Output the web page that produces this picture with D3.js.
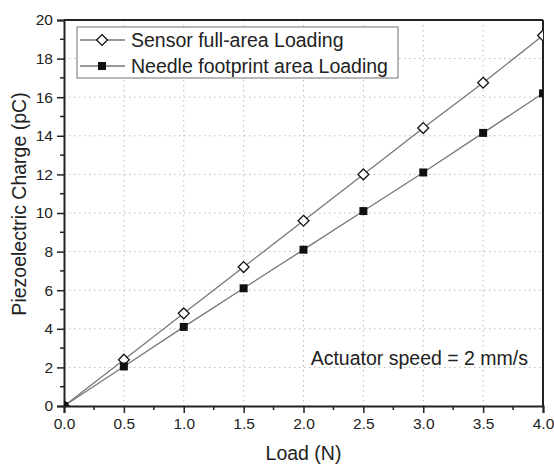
<!DOCTYPE html>
<html>
<head>
<meta charset="utf-8">
<script src="https://cdn.jsdelivr.net/npm/d3@7"></script>
<style>
  body { margin: 0; background: #fff; }
  text { font-family: "Liberation Sans", Arial, sans-serif; fill: #222; }
</style>
</head>
<body>
<script>
"use strict";

// data
const loads = [0, 0.5, 1.0, 1.5, 2.0, 2.5, 3.0, 3.5, 4.0]
const sensorCharge = [0, 2.4, 4.8, 7.2, 9.6, 12.0, 14.4, 16.75, 19.2]
const needleCharge = [0, 2.05, 4.1, 6.1, 8.1, 10.1, 12.1, 14.15, 16.2]
const xTicks = [0, 0.5, 1.0, 1.5, 2.0, 2.5, 3.0, 3.5, 4.0]
const yTicks = [0, 2, 4, 6, 8, 10, 12, 14, 16, 18, 20]
const seriesNames = ["Sensor full-area Loading", "Needle footprint area Loading"]

const m = { width: 554, height: 465, left: 64, right: 11, top: 20, bottom: 59 }
const iw = m.width - m.left - m.right
const ih = m.height - m.top - m.bottom

const svg = d3.select("body").append("svg")
    .attr("width", m.width)
    .attr("height", m.height)

const g = svg.append("g").attr("transform", `translate(${m.left},${m.top})`)

const x = d3.scaleLinear().domain([0, 4]).range([0, iw])
const y = d3.scaleLinear().domain([0, 20]).range([ih, 0])

svg.append("defs").append("clipPath").attr("id", "plotclip")
    .append("rect").attr("width", iw).attr("height", ih)

// dotted grid
g.selectAll(".vgrid").data(xTicks.slice(1, -1)).enter().append("line")
    .attr("x1", d => x(d)).attr("x2", d => x(d))
    .attr("y1", 0).attr("y2", ih)
    .attr("stroke", "#bbb").attr("stroke-dasharray", "1.5,3.5")
g.selectAll(".hgrid").data(yTicks.slice(1, -1)).enter().append("line")
    .attr("y1", d => y(d)).attr("y2", d => y(d))
    .attr("x1", 0).attr("x2", iw)
    .attr("stroke", "#bbb").attr("stroke-dasharray", "1.5,3.5")

// minor ticks
const xMinor = d3.range(0.25, 4, 0.5)
const yMinor = d3.range(1, 20, 2)
g.selectAll(".xminor").data(xMinor).enter().append("line")
    .attr("x1", d => x(d)).attr("x2", d => x(d))
    .attr("y1", ih).attr("y2", ih + 4)
    .attr("stroke", "#222").attr("stroke-width", 1.5)
g.selectAll(".yminor").data(yMinor).enter().append("line")
    .attr("y1", d => y(d)).attr("y2", d => y(d))
    .attr("x1", 0).attr("x2", -4)
    .attr("stroke", "#222").attr("stroke-width", 1.5)

// axes
const xAxis = g.append("g").attr("transform", `translate(0,${ih})`)
    .call(d3.axisBottom(x).tickValues(xTicks).tickFormat(d3.format(".1f")).tickSize(7).tickPadding(5))
const yAxis = g.append("g")
    .call(d3.axisLeft(y).tickValues(yTicks).tickSize(7).tickPadding(4))
;[xAxis, yAxis].forEach(a => {
    a.select(".domain").attr("stroke", "#222").attr("stroke-width", 2)
    a.selectAll(".tick line").attr("stroke", "#222").attr("stroke-width", 1.5)
    a.selectAll("text").attr("font-size", 15.5).attr("fill", "#222")
        .style("font-family", '"Liberation Sans", Arial, sans-serif')
})

// top and right frame
g.append("line").attr("x1", 0).attr("x2", iw).attr("y1", 0).attr("y2", 0)
    .attr("stroke", "#222").attr("stroke-width", 2)
g.append("line").attr("x1", iw).attr("x2", iw).attr("y1", 0).attr("y2", ih)
    .attr("stroke", "#222").attr("stroke-width", 2)

// series
const plot = g.append("g").attr("clip-path", "url(#plotclip)")
const line = d3.line().x(d => x(d[0])).y(d => y(d[1]))
const sensorPts = loads.map((l, i) => [l, sensorCharge[i]])
const needlePts = loads.map((l, i) => [l, needleCharge[i]])

plot.append("path").datum(sensorPts).attr("d", line)
    .attr("fill", "none").attr("stroke", "#777").attr("stroke-width", 1.3)
plot.append("path").datum(needlePts).attr("d", line)
    .attr("fill", "none").attr("stroke", "#777").attr("stroke-width", 1.3)

const diamond = d3.symbol().type(d3.symbolDiamond2).size(75)
plot.selectAll(".sensor").data(sensorPts).enter().append("path")
    .attr("d", diamond)
    .attr("transform", d => `translate(${x(d[0])},${y(d[1])})`)
    .attr("fill", "#fff").attr("stroke", "#111").attr("stroke-width", 1.3)
plot.selectAll(".needle").data(needlePts).enter().append("rect")
    .attr("x", d => x(d[0]) - 4).attr("y", d => y(d[1]) - 4)
    .attr("width", 8).attr("height", 8)
    .attr("fill", "#111")

// legend
const leg = g.append("g").attr("transform", "translate(13,7)")
leg.append("rect").attr("width", 321).attr("height", 51)
    .attr("fill", "#fff").attr("stroke", "#888").attr("stroke-width", 1.2)
seriesNames.forEach((name, i) => {
    const ly = 13 + i * 26
    leg.append("line").attr("x1", 3).attr("x2", 48).attr("y1", ly).attr("y2", ly)
        .attr("stroke", "#777").attr("stroke-width", 1.3)
    if (i === 0) {
        leg.append("path").attr("d", diamond)
            .attr("transform", `translate(25,${ly})`)
            .attr("fill", "#fff").attr("stroke", "#111").attr("stroke-width", 1.3)
    } else {
        leg.append("rect").attr("x", 21).attr("y", ly - 4).attr("width", 8).attr("height", 8)
            .attr("fill", "#111")
    }
    leg.append("text").attr("x", 54).attr("y", ly + 7)
        .attr("font-size", 19.5).text(name)
})

// annotation
g.append("text").attr("x", iw - 15).attr("y", y(2.5) + 7)
    .attr("text-anchor", "end").attr("font-size", 19.5)
    .text("Actuator speed = 2 mm/s")

// axis titles
svg.append("text").attr("x", m.left + iw / 2).attr("y", 460)
    .attr("text-anchor", "middle").attr("font-size", 19.5).text("Load (N)")
svg.append("text")
    .attr("transform", `translate(26,204) rotate(-90)`)
    .attr("text-anchor", "middle").attr("font-size", 19.5)
    .text("Piezoelectric Charge (pC)")
</script>
</body>
</html>
